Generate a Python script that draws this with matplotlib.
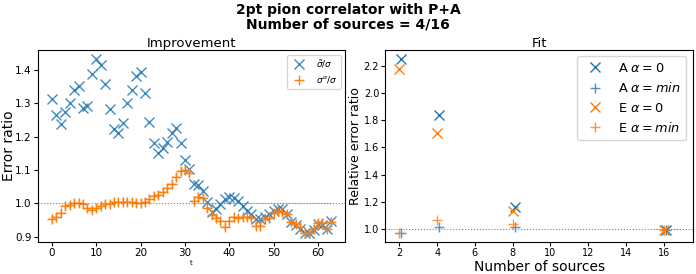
import numpy as np
import matplotlib.pyplot as plt

# ── Data ─────────────────────────────────────────────────────────────────────
t = np.arange(64)

ratio_tilde = [
    1.313, 1.266, 1.238, 1.275, 1.301, 1.339, 1.351, 1.287, 1.291, 1.388,
    1.434, 1.416, 1.358, 1.282, 1.224, 1.212, 1.240, 1.301, 1.341, 1.383,
    1.395, 1.332, 1.245, 1.181, 1.152, 1.166, 1.185, 1.211, 1.226, 1.181,
    1.131, 1.102, 1.057, 1.054, 1.037, 1.005, 0.974, 0.982, 0.998, 1.012,
    1.020, 1.015, 1.008, 0.993, 0.978, 0.967, 0.954, 0.953, 0.960, 0.968,
    0.978, 0.984, 0.984, 0.968, 0.945, 0.935, 0.922, 0.912, 0.910, 0.919,
    0.937, 0.936, 0.923, 0.947,
]
ratio_alpha = [
    0.953, 0.960, 0.971, 0.992, 0.996, 1.000, 1.000, 0.997, 0.985, 0.980,
    0.985, 0.993, 0.997, 0.999, 1.003, 1.005, 1.005, 1.005, 1.004, 1.002,
    1.001, 1.004, 1.012, 1.023, 1.025, 1.034, 1.045, 1.058, 1.080, 1.098,
    1.100, 1.090, 1.007, 1.020, 1.015, 0.987, 0.965, 0.957, 0.947, 0.930,
    0.947, 0.960, 0.955, 0.958, 0.960, 0.957, 0.932, 0.933, 0.952, 0.957,
    0.971, 0.976, 0.975, 0.967, 0.945, 0.938, 0.928, 0.912, 0.912, 0.922,
    0.942, 0.942, 0.922, 0.943,
]

n_sources = np.array([2, 4, 8, 16])
a_alpha0   = [2.254, 1.839, 1.158, 0.995]
a_alphamin = [0.968, 1.012, 1.012, 0.995]
e_alpha0   = [2.175, 1.705, 1.129, 0.995]
e_alphamin = [0.968, 1.069, 1.037, 0.995]

blue = "tab:blue"
orange = "tab:orange"

fig, (ax1, ax2) = plt.subplots(1, 2, figsize=(6.96, 2.74), dpi=100)
fig.subplots_adjust(left=38 / 696, right=692.7 / 696,
                    top=1 - 50 / 274, bottom=1 - 242 / 274, wspace=0.131)

fig.suptitle("2pt pion correlator with P+A\nNumber of sources = 4/16",
             fontsize=10, fontweight="bold", y=0.99, linespacing=1.1)

# ── Left: improvement ────────────────────────────────────────────────────────
ax1.plot(t, ratio_tilde, ls="none", marker="x", ms=7, color=blue,
         alpha=0.85, label=r"$\tilde{\sigma}/\sigma$")
ax1.plot(t, ratio_alpha, ls="none", marker="P", ms=6, color=orange,
         alpha=0.3, mew=0)
ax1.plot(t, ratio_alpha, ls="none", marker="+", ms=7, color=orange,
         label=r"$\sigma^\alpha/\sigma$")
ax1.axhline(1.0, color="gray", ls=":", lw=0.8)
ax1.plot([32, 63], [1.0, 1.0], color="lightgray", lw=0.8, zorder=0)
ax1.set_title("Improvement", fontsize=9.5, pad=2)
ax1.set_ylabel("Error ratio", fontsize=10)
ax1.yaxis.set_label_coords(-0.072, 0.5)
ax1.set_xlabel("t", fontsize=5, labelpad=1)
ax1.set_xticks([0, 10, 20, 30, 40, 50, 60])
ax1.set_yticks([0.9, 1.0, 1.1, 1.2, 1.3, 1.4])
ax1.tick_params(labelsize=7.5, pad=1.5, length=3)
ax1.legend(fontsize=6.5, loc="upper right")

# ── Right: fit ───────────────────────────────────────────────────────────────
ax2.plot(n_sources + 0.1, a_alpha0, ls="none", marker="x", ms=7,
         color=blue, label=r"A $\alpha=0$")
ax2.plot(n_sources + 0.1, a_alphamin, ls="none", marker="+", ms=7,
         color=blue, alpha=0.8, label=r"A $\alpha=min$")
ax2.plot(n_sources, e_alpha0, ls="none", marker="x", ms=7,
         color=orange, label=r"E $\alpha=0$")
ax2.plot(n_sources, e_alphamin, ls="none", marker="+", ms=7,
         color=orange, alpha=0.8, label=r"E $\alpha=min$")
ax2.axhline(1.0, color="gray", ls=":", lw=0.8)
ax2.plot([15.5, 16.8], [1.0, 1.0], color="lightgray", lw=0.8, zorder=0)
ax2.set_title("Fit", fontsize=9.5, pad=2)
ax2.set_ylabel("Relative error ratio", fontsize=9)
ax2.yaxis.set_label_coords(-0.076, 0.5)
ax2.set_xlabel("Number of sources", fontsize=10, labelpad=1)
ax2.set_xticks([2, 4, 6, 8, 10, 12, 14, 16])
ax2.set_yticks([1.0, 1.2, 1.4, 1.6, 1.8, 2.0, 2.2])
ax2.tick_params(labelsize=7, pad=1.5, length=3)
ax2.legend(fontsize=9.3, loc="upper right")

plt.savefig("out.png", dpi=100)
